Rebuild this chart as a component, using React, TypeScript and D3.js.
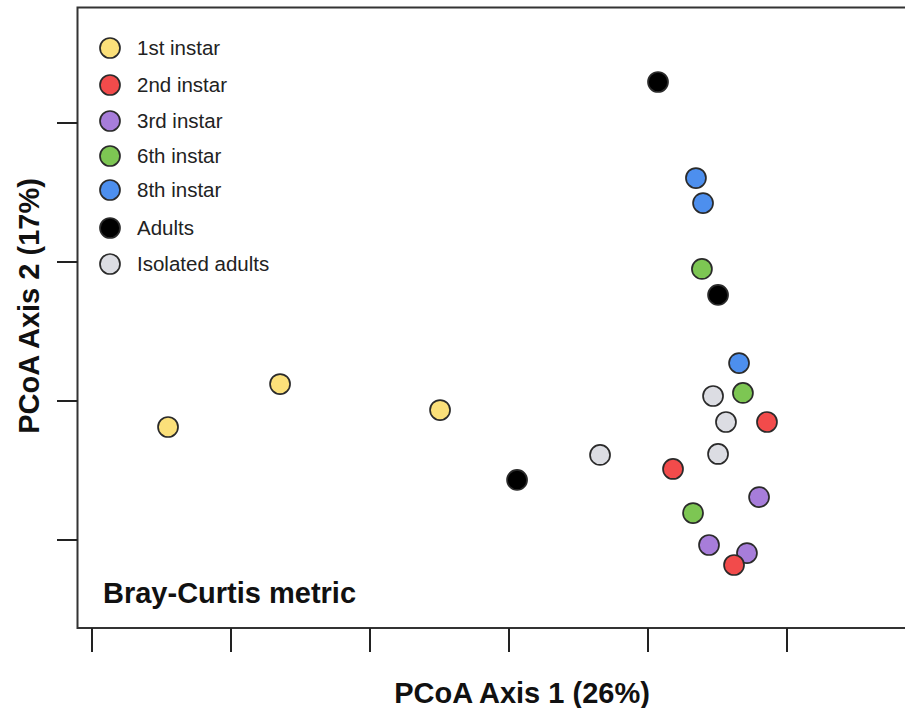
import React from "react";
import * as d3 from "d3";

const groups = ["1st instar", "2nd instar", "3rd instar", "6th instar", "8th instar", "Adults", "Isolated adults"];
const colors = ["#FBE07A", "#F24B4B", "#A77DDA", "#7DC653", "#4D8FEE", "#000000", "#DCDDE3"];

const x1st = [-0.2453, -0.1647, -0.0496];
const y1st = [-0.0187, 0.0122, -0.0065];
const x2nd = [0.1856, 0.1180, 0.1619];
const y2nd = [-0.0151, -0.0489, -0.1180];
const x3rd = [0.1799, 0.1439, 0.1712];
const y3rd = [-0.0691, -0.1036, -0.1094];
const x6th = [0.1388, 0.1683, 0.1324];
const y6th = [0.0950, 0.0058, -0.0806];
const x8th = [0.1345, 0.1396, 0.1655];
const y8th = [0.1604, 0.1424, 0.0273];
const xAdults = [0.1072, 0.1504, 0.0058];
const yAdults = [0.2295, 0.0763, -0.0568];
const xIso = [0.0655, 0.1468, 0.1561, 0.1504];
const yIso = [-0.0388, 0.0036, -0.0151, -0.0381];

const xTicks = [-0.3, -0.2, -0.1, 0, 0.1, 0.2];
const yTicks = [-0.1, 0, 0.1, 0.2];

const seriesX = [x1st, x2nd, x3rd, x6th, x8th, xAdults, xIso];
const seriesY = [y1st, y2nd, y3rd, y6th, y8th, yAdults, yIso];
// drawing order: 3rd before 2nd so red overlaps purple
const drawOrder = [0, 2, 1, 3, 4, 5, 6];

const W = 905, H = 708;
const left = 77.5, top = 7.5, bottom = 628, right = 930;

export default function App() {
  const x = d3.scaleLinear().domain([0, 0.1]).range([509, 648]);
  const y = d3.scaleLinear().domain([0, 0.1]).range([401, 262]);
  const font = "Liberation Sans, Arial, sans-serif";
  return (
    <svg width={W} height={H} style={{ position: "absolute", left: 0, top: 0, background: "#fff" }}>
      <rect x={left} y={top} width={right - left} height={bottom - top} fill="none" stroke="#333" strokeWidth={2} />
      {xTicks.map((t, i) => (
        <line key={"xt" + i} x1={x(t)} x2={x(t)} y1={bottom} y2={652} stroke="#222" strokeWidth={2} />
      ))}
      {yTicks.map((t, i) => (
        <line key={"yt" + i} x1={57} x2={left} y1={y(t)} y2={y(t)} stroke="#222" strokeWidth={2} />
      ))}
      {drawOrder.map((g) =>
        seriesX[g].map((vx, j) => (
          <circle key={g + "-" + j} cx={x(vx)} cy={y(seriesY[g][j])} r={10} fill={colors[g]} stroke="#2a2a2a" strokeWidth={1.7} />
        ))
      )}
      {groups.map((name, i) => {
        const ly = [48, 85, 121, 156, 190, 228, 264][i];
        return (
          <g key={"lg" + i}>
            <circle cx={110} cy={ly} r={10} fill={colors[i]} stroke="#2a2a2a" strokeWidth={1.7} />
            <text x={137} y={ly + 7} fontFamily={font} fontSize={20.5} fill="#222">{name}</text>
          </g>
        );
      })}
      <text x={103} y={603} fontFamily={font} fontWeight="bold" fontSize={29} fill="#111">Bray-Curtis metric</text>
      <text x={522} y={703} textAnchor="middle" fontFamily={font} fontWeight="bold" fontSize={29} fill="#111">PCoA Axis 1 (26%)</text>
      <text transform="translate(39,306) rotate(-90)" textAnchor="middle" fontFamily={font} fontWeight="bold" fontSize={29} fill="#111">PCoA Axis 2 (17%)</text>
    </svg>
  );
}
